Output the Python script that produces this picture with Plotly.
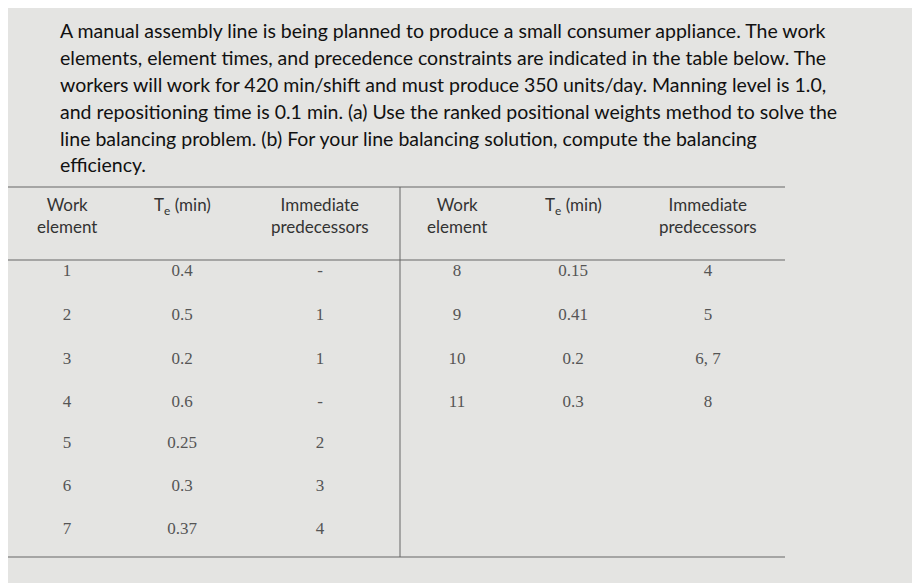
import plotly.graph_objects as go

# Problem statement lines
problem_lines = [
    "A manual assembly line is being planned to produce a small consumer appliance. The work",
    "elements, element times, and precedence constraints are indicated in the table below. The",
    "workers will work for 420 min/shift and must produce 350 units/day. Manning level is 1.0,",
    "and repositioning time is 0.1 min. (a) Use the ranked positional weights method to solve the",
    "line balancing problem. (b) For your line balancing solution, compute the balancing",
    "efficiency.",
]

# Table data (left half and right half)
left_element = ["1", "2", "3", "4", "5", "6", "7"]
left_te = ["0.4", "0.5", "0.2", "0.6", "0.25", "0.3", "0.37"]
left_pred = ["-", "1", "1", "-", "2", "3", "4"]
right_element = ["8", "9", "10", "11"]
right_te = ["0.15", "0.41", "0.2", "0.3"]
right_pred = ["4", "5", "6, 7", "8"]

headers = ["Work<br>element", "T<sub>e</sub> (min)", "Immediate<br>predecessors"] * 2

# Layout positions (pixel-like coordinates, y downward)
col_x = [67, 182, 320, 457, 573, 708]
row_y = [272, 316, 360, 403, 444, 487, 530]
line_y = [30, 57, 84, 111, 138, 164]

fig = go.Figure()

cell_font = dict(family="Liberation Serif", size=17, color="#555555")
for cx, vals in zip(col_x[:3], [left_element, left_te, left_pred]):
    fig.add_trace(go.Scatter(x=[cx] * len(vals), y=row_y[:len(vals)], text=vals,
                             mode="text", textfont=cell_font, hoverinfo="skip"))
for cx, vals in zip(col_x[3:], [right_element, right_te, right_pred]):
    fig.add_trace(go.Scatter(x=[cx] * len(vals), y=row_y[:len(vals)], text=vals,
                             mode="text", textfont=cell_font, hoverinfo="skip"))

# Header cells
for cx, h in zip(col_x, headers):
    fig.add_annotation(x=cx, y=192, text=h, showarrow=False, yanchor="top",
                       font=dict(family="Lato", size=17, color="#333333"))

# Problem text
for ly, t in zip(line_y, problem_lines):
    fig.add_annotation(x=58, y=ly, text=t, showarrow=False, xanchor="left",
                       font=dict(family="Lato", size=19.5, color="#111111"))

# Table rules
rule = dict(color="#666666", width=1)
fig.add_shape(type="line", x0=0, x1=785, y0=187, y1=187, line=rule)
fig.add_shape(type="line", x0=0, x1=785, y0=260, y1=260, line=rule)
fig.add_shape(type="line", x0=0, x1=785, y0=557, y1=557, line=rule)
fig.add_shape(type="line", x0=400, x1=400, y0=187, y1=557, line=rule)

fig.update_layout(
    width=920, height=583,
    margin=dict(l=0, r=0, t=0, b=0),
    paper_bgcolor="#e4e4e2", plot_bgcolor="#e4e4e2",
    showlegend=False,
    xaxis=dict(range=[8, 928], visible=False, fixedrange=True),
    yaxis=dict(range=[591, 8], visible=False, fixedrange=True),
)

fig.write_html("out.html")
